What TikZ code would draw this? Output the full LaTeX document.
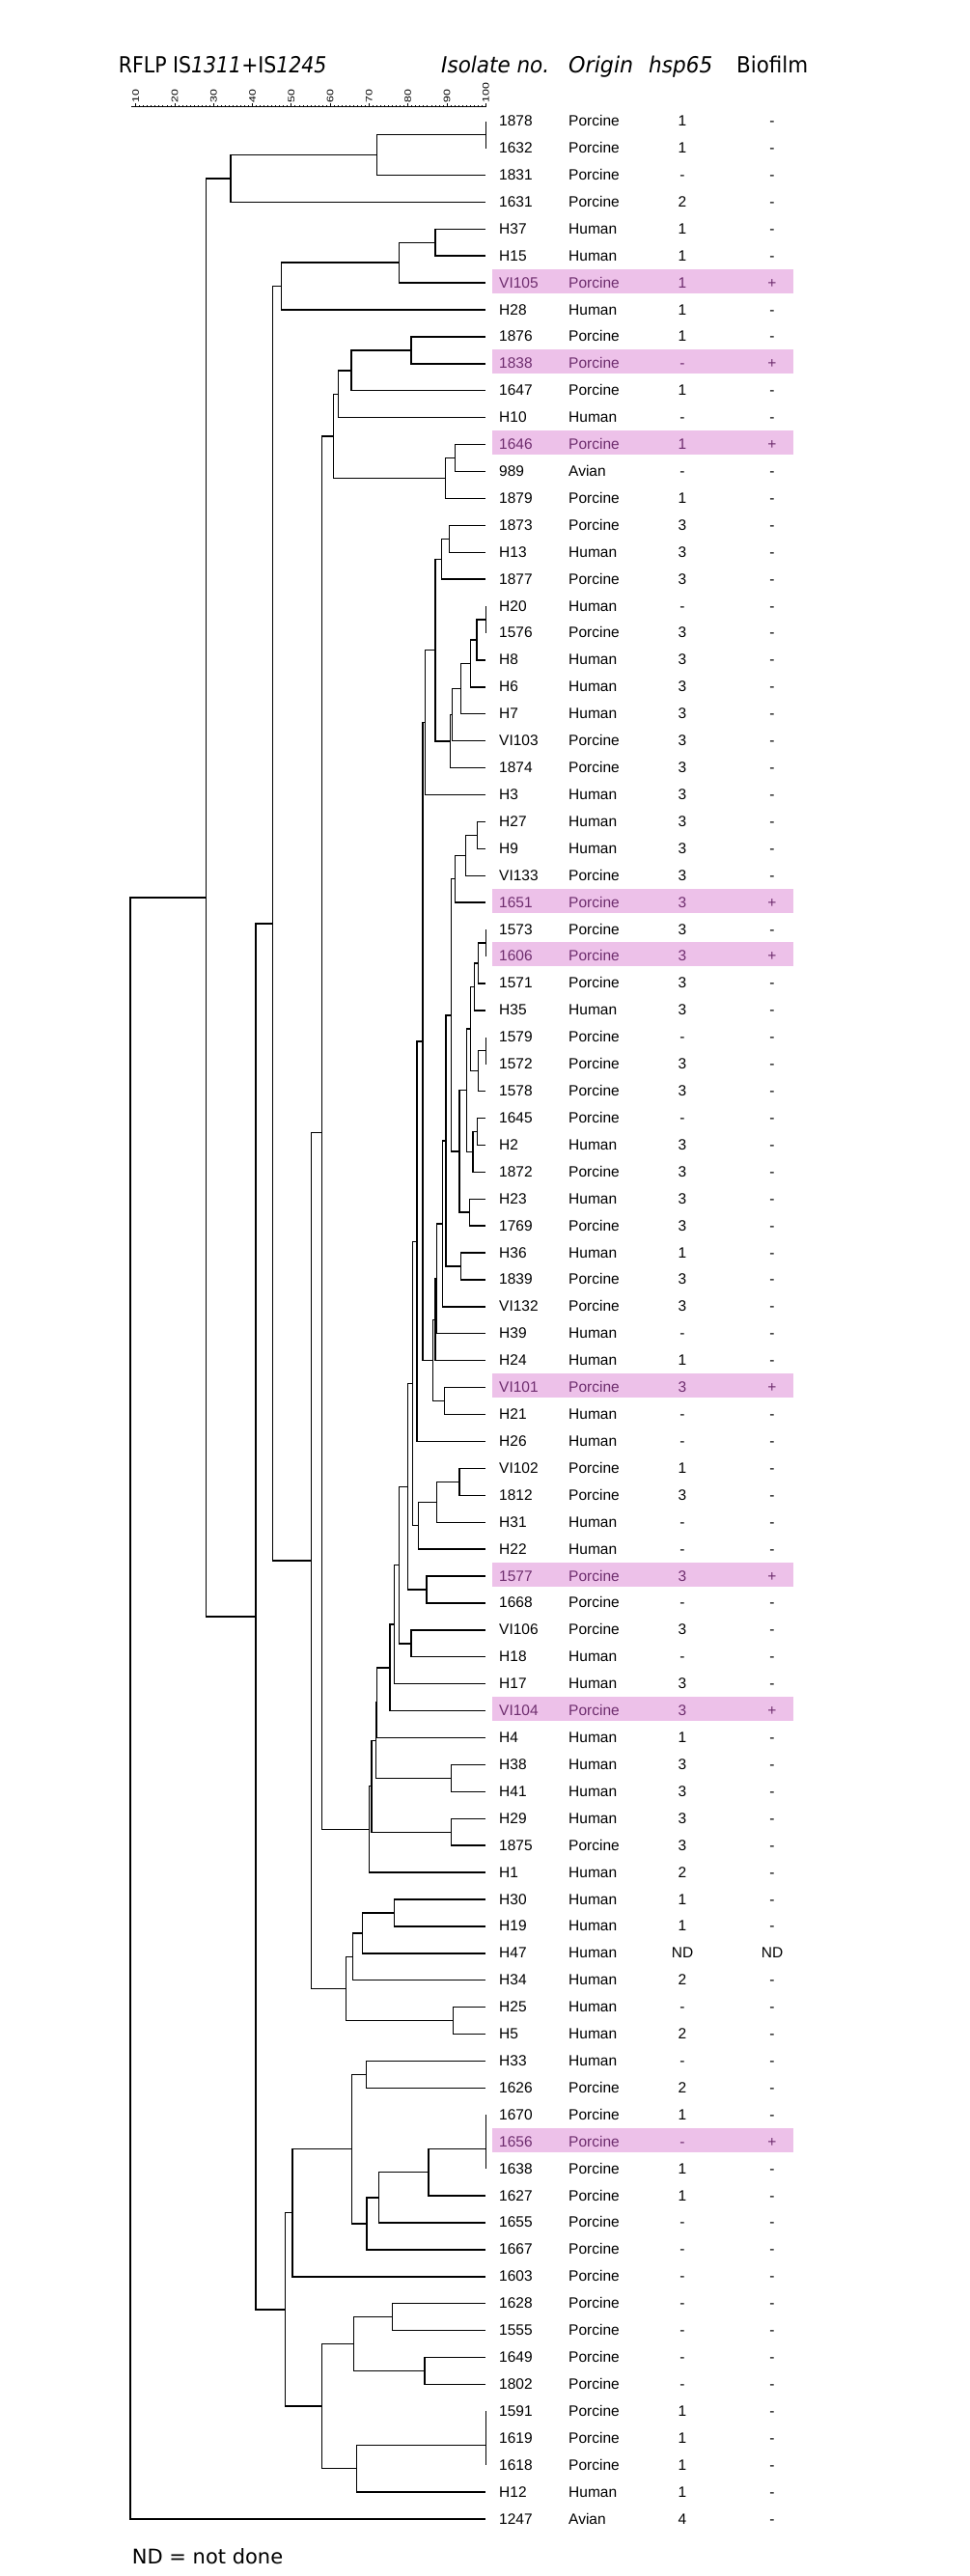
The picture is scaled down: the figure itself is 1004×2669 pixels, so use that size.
\documentclass[tikz,border=0pt]{standalone}
\usepackage{fontspec}
\usepackage{graphicx}
\setmainfont{Liberation Sans}
\newfontfamily\hdr{DejaVu Sans}
\usetikzlibrary{calc}
\definecolor{hlfill}{RGB}{237,193,233}
\definecolor{hltext}{RGB}{110,45,110}
\newcommand\mk[4]{%
  \path let \p1=($(#3)!0.5!(#4)$) in coordinate (#1) at (#2pt,\y1);
  \draw[br] (#1) |- (#3);
  \draw[br] (#1) |- (#4);
}
\begin{document}
\begin{tikzpicture}[x=1pt,y=-1pt,
  br/.style={line width=1.4pt,black},
  axisline/.style={line width=1pt,black},
  rowtxt/.style={inner sep=0pt,font=\fontsize{15.5}{18}\selectfont},
  hdrtxt/.style={inner sep=0pt,anchor=base west,font=\hdr\fontsize{23}{27}\selectfont},
  ticklab/.style={inner sep=0pt,rotate=90,anchor=west,font=\fontsize{9.5}{11}\selectfont}]
\fill[white] (0,0) rectangle (1004,2669);
\useasboundingbox (0,0) rectangle (1004,2669);

% header
\node[hdrtxt] (title) at (122.7,75) {\resizebox{215.6pt}{\height}{RFLP IS\textit{1311}+IS\textit{1245}}};
\node[hdrtxt] (hiso) at (457,75) {\resizebox{112pt}{\height}{\textit{Isolate no.}}};
\node[hdrtxt] (horg) at (589,75) {\resizebox{67pt}{\height}{\textit{Origin}}};
\node[hdrtxt] (hhsp) at (672,75) {\resizebox{66pt}{\height}{\textit{hsp65}}};
\node[hdrtxt] (hbio) at (763,75) {\resizebox{74pt}{\height}{Biofilm}};

% scale
\draw[axisline] (136,110.7) -- (503.3,110.7);
\foreach \k in {10,...,100}{
  \pgfmathsetmacro\tx{100.4+4.029*\k}
  \draw[line width=0.8pt] (\tx,110.7) -- (\tx,108.6);
}
\foreach \k in {10,20,...,100}{
  \pgfmathsetmacro\tx{100.4+4.029*\k}
  \draw[line width=0.9pt] (\tx,110.7) -- (\tx,106.5);
  \node[ticklab] (tick\k) at (\tx,106.3) {\scalebox{1.3}[1]{\k}};
}

% rows
\foreach \iso/\org/\hsp/\bio/\hl [count=\i from 0] in {
1878/Porcine/1/-/0, 1632/Porcine/1/-/0, 1831/Porcine/-/-/0, 1631/Porcine/2/-/0,
H37/Human/1/-/0, H15/Human/1/-/0, VI105/Porcine/1/+/1, H28/Human/1/-/0,
1876/Porcine/1/-/0, 1838/Porcine/-/+/1, 1647/Porcine/1/-/0, H10/Human/-/-/0,
1646/Porcine/1/+/1, 989/Avian/-/-/0, 1879/Porcine/1/-/0, 1873/Porcine/3/-/0,
H13/Human/3/-/0, 1877/Porcine/3/-/0, H20/Human/-/-/0, 1576/Porcine/3/-/0,
H8/Human/3/-/0, H6/Human/3/-/0, H7/Human/3/-/0, VI103/Porcine/3/-/0,
1874/Porcine/3/-/0, H3/Human/3/-/0, H27/Human/3/-/0, H9/Human/3/-/0,
VI133/Porcine/3/-/0, 1651/Porcine/3/+/1, 1573/Porcine/3/-/0, 1606/Porcine/3/+/1,
1571/Porcine/3/-/0, H35/Human/3/-/0, 1579/Porcine/-/-/0, 1572/Porcine/3/-/0,
1578/Porcine/3/-/0, 1645/Porcine/-/-/0, H2/Human/3/-/0, 1872/Porcine/3/-/0,
H23/Human/3/-/0, 1769/Porcine/3/-/0, H36/Human/1/-/0, 1839/Porcine/3/-/0,
VI132/Porcine/3/-/0, H39/Human/-/-/0, H24/Human/1/-/0, VI101/Porcine/3/+/1,
H21/Human/-/-/0, H26/Human/-/-/0, VI102/Porcine/1/-/0, 1812/Porcine/3/-/0,
H31/Human/-/-/0, H22/Human/-/-/0, 1577/Porcine/3/+/1, 1668/Porcine/-/-/0,
VI106/Porcine/3/-/0, H18/Human/-/-/0, H17/Human/3/-/0, VI104/Porcine/3/+/1,
H4/Human/1/-/0, H38/Human/3/-/0, H41/Human/3/-/0, H29/Human/3/-/0,
1875/Porcine/3/-/0, H1/Human/2/-/0, H30/Human/1/-/0, H19/Human/1/-/0,
H47/Human/ND/ND/0, H34/Human/2/-/0, H25/Human/-/-/0, H5/Human/2/-/0,
H33/Human/-/-/0, 1626/Porcine/2/-/0, 1670/Porcine/1/-/0, 1656/Porcine/-/+/1,
1638/Porcine/1/-/0, 1627/Porcine/1/-/0, 1655/Porcine/-/-/0, 1667/Porcine/-/-/0,
1603/Porcine/-/-/0, 1628/Porcine/-/-/0, 1555/Porcine/-/-/0, 1649/Porcine/-/-/0,
1802/Porcine/-/-/0, 1591/Porcine/1/-/0, 1619/Porcine/1/-/0, 1618/Porcine/1/-/0,
H12/Human/1/-/0, 1247/Avian/4/-/0}{
  \pgfmathsetmacro\yy{125.6+27.915*\i}
  \coordinate (L\i) at (503.3,\yy);
  \ifnum\hl=1
    \fill[hlfill] (510,\yy-14.5) rectangle (822,\yy+10.5);
    \def\tc{hltext}
  \else
    \def\tc{black}
  \fi
  \node[rowtxt,text=\tc,anchor=base west] (iso\i) at (517,\yy+5) {\iso};
  \node[rowtxt,text=\tc,anchor=base west] (org\i) at (589,\yy+5) {\org};
  \node[rowtxt,text=\tc,anchor=base] (hsp\i) at (707,\yy+5) {\hsp};
  \node[rowtxt,text=\tc,anchor=base] (bio\i) at (800,\yy+5) {\bio};
}

% tree
\mk{a1}{503.3}{L0}{L1}
\mk{a2}{390.7}{a1}{L2}
\mk{a3}{239.0}{a2}{L3}
\mk{b1}{451.0}{L4}{L5}
\mk{b2}{413.3}{b1}{L6}
\mk{b3}{291.7}{b2}{L7}
\mk{c1}{426.0}{L8}{L9}
\mk{c2}{364.0}{c1}{L10}
\mk{c3}{350.7}{c2}{L11}
\mk{c4}{471.7}{L12}{L13}
\mk{c5}{461.3}{c4}{L14}
\mk{c6}{345.3}{c3}{c5}
\mk{d1}{465.3}{L15}{L16}
\mk{d2}{457.3}{d1}{L17}
\mk{e1}{503.3}{L18}{L19}
\mk{e2}{494.0}{e1}{L20}
\mk{e3}{487.7}{e2}{L21}
\mk{e4}{477.3}{e3}{L22}
\mk{e5}{468.7}{e4}{L23}
\mk{e6}{466.7}{e5}{L24}
\mk{d3}{451.0}{d2}{e6}
\mk{d4}{440.7}{d3}{L25}
\mk{f1}{494.7}{L26}{L27}
\mk{f2}{482.7}{f1}{L28}
\mk{f3}{471.3}{f2}{L29}
\mk{g1}{503.3}{L30}{L31}
\mk{g2}{495.3}{g1}{L32}
\mk{g3}{491.3}{g2}{L33}
\mk{h1}{503.3}{L34}{L35}
\mk{h2}{495.3}{h1}{L36}
\mk{g4}{487.7}{g3}{h2}
\mk{i1}{494.7}{L37}{L38}
\mk{i2}{490.0}{i1}{L39}
\mk{g5}{483.3}{g4}{i2}
\mk{j1}{486.7}{L40}{L41}
\mk{g6}{476.0}{g5}{j1}
\mk{f4}{467.7}{f3}{g6}
\mk{k1}{477.3}{L42}{L43}
\mk{f5}{462.0}{f4}{k1}
\mk{f6}{458.7}{f5}{L44}
\mk{f7}{452.7}{f6}{L45}
\mk{f8}{451.0}{f7}{L46}
\mk{m1}{460.7}{L47}{L48}
\mk{f9}{448.3}{f8}{m1}
\mk{D1}{438.0}{d4}{f9}
\mk{D2}{432.0}{D1}{L49}
\mk{p1}{476.0}{L50}{L51}
\mk{p2}{452.7}{p1}{L52}
\mk{p3}{433.3}{p2}{L53}
\mk{D3}{427.3}{D2}{p3}
\mk{q1}{442.0}{L54}{L55}
\mk{D4}{422.7}{D3}{q1}
\mk{r1}{426.0}{L56}{L57}
\mk{D5}{413.3}{D4}{r1}
\mk{D6}{408.7}{D5}{L58}
\mk{D7}{404.0}{D6}{L59}
\mk{D8}{390.7}{D7}{L60}
\mk{s1}{467.3}{L61}{L62}
\mk{D9}{389.3}{D8}{s1}
\mk{s2}{467.3}{L63}{L64}
\mk{D10}{385.0}{D9}{s2}
\mk{D11}{382.3}{D10}{L65}
\mk{W}{333.3}{c6}{D11}
\mk{t1}{408.7}{L66}{L67}
\mk{t2}{375.7}{t1}{L68}
\mk{t3}{365.7}{t2}{L69}
\mk{u1}{469.3}{L70}{L71}
\mk{t4}{358.7}{t3}{u1}
\mk{V}{322.7}{W}{t4}
\mk{B}{282.3}{b3}{V}
\mk{v1}{379.3}{L72}{L73}
\mk{w1}{503.3}{L74}{L75}
\mk{w2}{503.3}{w1}{L76}
\mk{w3}{444.0}{w2}{L77}
\mk{w4}{392.7}{w3}{L78}
\mk{w5}{380.0}{w4}{L79}
\mk{v2}{364.7}{v1}{w5}
\mk{v3}{303.0}{v2}{L80}
\mk{xa}{406.7}{L81}{L82}
\mk{xb}{440.0}{L83}{L84}
\mk{xc}{366.7}{xa}{xb}
\mk{ya}{503.3}{L85}{L86}
\mk{yb}{503.3}{ya}{L87}
\mk{yc}{369.3}{yb}{L88}
\mk{xd}{333.3}{xc}{yc}
\mk{v4}{295.7}{v3}{xd}
\mk{Z}{265.0}{B}{v4}
\mk{T}{213.3}{a3}{Z}
\mk{R}{135.0}{T}{L89}

% footnote
\node[inner sep=0pt,anchor=base west,font=\hdr\fontsize{21}{25}\selectfont] (nd) at (136.7,2656.7) {ND = not done};
\end{tikzpicture}
\end{document}
